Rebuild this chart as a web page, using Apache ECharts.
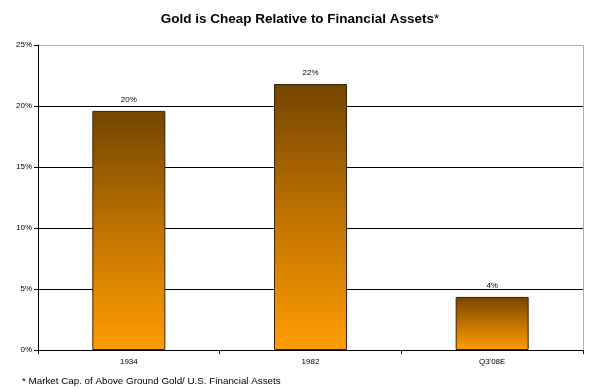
<!DOCTYPE html>
<html><head><meta charset="utf-8">
<script src="https://cdn.jsdelivr.net/npm/echarts@6/dist/echarts.min.js"></script>
<style>html,body{margin:0;padding:0;background:#fff}#c{width:600px;height:390px}</style>
</head><body><div id="c"></div>
<script>
var categories = ['1934', '1982', "Q3'08E"];
var values = [19.6, 21.8, 4.35];
var labels = ['20%', '22%', '4%'];
var yTicks = [0, 5, 10, 15, 20, 25];

var chart = echarts.init(document.getElementById('c'));
var F = '"Liberation Sans", Arial, sans-serif';
chart.setOption({
  animation: false,
  title: {
    text: '{b|Gold is Cheap Relative to Financial Assets}{n|*}',
    left: 'center', top: 7,
    textStyle: {
      rich: {
        b: {fontFamily: F, fontSize: 13.5, fontWeight: 'bold', color: '#000'},
        n: {fontFamily: F, fontSize: 13.5, fontWeight: 'normal', color: '#000', verticalAlign: 'top'}
      }
    }
  },
  graphic: [{
    type: 'text', left: 22, top: 376,
    style: {text: '* Market Cap. of Above Ground Gold/ U.S. Financial Assets', font: '9.8px ' + F, fill: '#000'}
  }, {
    type: 'rect', shape: {x: 38.5, y: 45.5, width: 545, height: 305},
    style: {fill: 'none', stroke: '#b0b0b0', lineWidth: 1}, z: 0
  }],
  grid: {left: 38, right: 17, top: 45, bottom: 40, containLabel: false},
  xAxis: {
    type: 'category', data: categories,
    axisLine: {lineStyle: {color: '#000', width: 1}},
    axisTick: {show: true, alignWithLabel: false, length: 4, lineStyle: {color: '#000'}},
    axisLabel: {fontFamily: F, fontSize: 8, color: '#000', margin: 8}
  },
  yAxis: {
    type: 'value', min: 0, max: 25, interval: 5,
    axisLine: {show: true, lineStyle: {color: '#000', width: 1}},
    axisTick: {show: true, length: 4, lineStyle: {color: '#000'}},
    axisLabel: {fontFamily: F, fontSize: 8, color: '#000', margin: 6,
      formatter: function (v) { return yTicks.indexOf(v) >= 0 ? v + '%' : ''; }},
    splitLine: {show: true, lineStyle: {color: ['#000', '#000', '#000', '#000', '#000', '#b0b0b0'], width: 1}}
  },
  series: [{
    type: 'bar', data: values, barWidth: 73,
    itemStyle: {
      borderColor: '#3a2200', borderWidth: 1,
      color: new echarts.graphic.LinearGradient(0, 0, 0, 1, [
        {offset: 0, color: '#734500'}, {offset: 0.5, color: '#c07300'}, {offset: 1, color: '#ff9c00'}
      ])
    },
    label: {show: true, position: 'top', distance: 7, fontFamily: F, fontSize: 8, color: '#000',
      formatter: function (p) { return labels[p.dataIndex]; }}
  }]
});
</script></body></html>
